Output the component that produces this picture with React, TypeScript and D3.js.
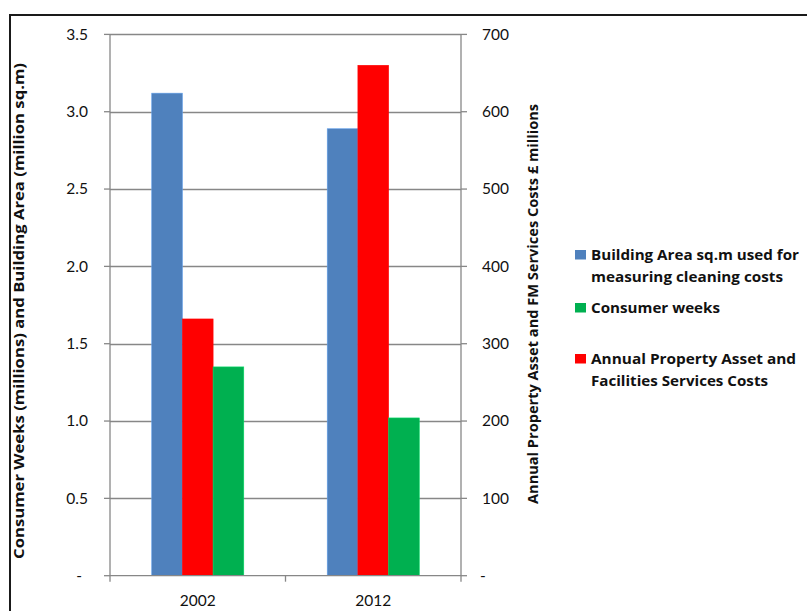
import { useEffect, useRef } from "react";
import * as d3 from "d3";

const years = ["2002", "2012"];
const buildingArea = [3.12, 2.89];
const propertyCosts = [332, 660];
const consumerWeeks = [1.35, 1.02];
const leftTicks = [0, 0.5, 1.0, 1.5, 2.0, 2.5, 3.0, 3.5];
const rightTicks = [0, 100, 200, 300, 400, 500, 600, 700];

const SERIES = [
  { key: "area", values: buildingArea, axis: "left", color: "#4F81BD" },
  { key: "costs", values: propertyCosts, axis: "right", color: "#FF0000" },
  { key: "weeks", values: consumerWeeks, axis: "left", color: "#00B050" },
];

// legend lines with their measured widths in the reference
const LEGEND = [
  { color: "#4F81BD", lines: ["Building Area sq.m used for", "measuring cleaning costs"], widths: [208, 192] },
  { color: "#00B050", lines: ["Consumer weeks"], widths: [129] },
  { color: "#FF0000", lines: ["Annual Property Asset and", "Facilities Services Costs"], widths: [205, 177] },
];

const FONT = "Lato, 'Open Sans', sans-serif";
const BOLD_FONT = "'Open Sans', Lato, sans-serif";

export default function App() {
  const svgRef = useRef<SVGSVGElement>(null);

  useEffect(() => {
    if (!svgRef.current) return;
    const width = 807;
    const height = 611;
    const plot = { left: 110, right: 461, top: 34.4, bottom: 575.7 };

    const svg = d3.select(svgRef.current);
    svg.selectAll("*").remove();
    svg.attr("width", width).attr("height", height);

    svg.append("rect").attr("width", width).attr("height", height).attr("fill", "#fff");

    // outer chart border (runs past the window)
    svg.append("rect")
      .attr("x", 10)
      .attr("y", 15)
      .attr("width", 830)
      .attr("height", 640)
      .attr("fill", "none")
      .attr("stroke", "#1a1a1a")
      .attr("stroke-width", 2);

    const x0 = d3.scaleBand().domain(years).range([plot.left, plot.right]).padding(0);
    const x1 = d3
      .scaleBand()
      .domain(SERIES.map((s) => s.key))
      .range([0, x0.bandwidth()])
      .paddingInner(0)
      .paddingOuter(1.36);
    const yLeft = d3.scaleLinear().domain([0, 3.5]).range([plot.bottom, plot.top]);
    const yRight = d3.scaleLinear().domain([0, 700]).range([plot.bottom, plot.top]);

    const g = svg.append("g");
    const grey = "#878787";

    // gridlines
    leftTicks.slice(1).forEach((t) => {
      g.append("line")
        .attr("x1", plot.left)
        .attr("x2", plot.right)
        .attr("y1", Math.round(yLeft(t)) + 0.5)
        .attr("y2", Math.round(yLeft(t)) + 0.5)
        .attr("stroke", grey)
        .attr("stroke-width", 1.3);
    });

    // bars
    SERIES.forEach((s) => {
      const yS = s.axis === "left" ? yLeft : yRight;
      s.values.forEach((v, i) => {
        const x = (x0(years[i]) ?? 0) + (x1(s.key) ?? 0);
        g.append("rect")
          .attr("x", x)
          .attr("y", yS(v))
          .attr("width", x1.bandwidth())
          .attr("height", plot.bottom - yS(v))
          .attr("fill", s.color)
          .attr("stroke", d3.color(s.color)!.brighter(0.6).toString())
          .attr("stroke-width", 0.6);
      });
    });

    // axes lines
    [plot.left, plot.right].forEach((x) => {
      g.append("line")
        .attr("x1", x)
        .attr("x2", x)
        .attr("y1", plot.top)
        .attr("y2", plot.bottom)
        .attr("stroke", grey)
        .attr("stroke-width", 1.3);
    });
    g.append("line")
      .attr("x1", plot.left)
      .attr("x2", plot.right)
      .attr("y1", plot.bottom)
      .attr("y2", plot.bottom)
      .attr("stroke", grey)
      .attr("stroke-width", 1.3);

    // left ticks
    leftTicks.forEach((t) => {
      const y = yLeft(t);
      g.append("line")
        .attr("x1", plot.left - 6)
        .attr("x2", plot.left)
        .attr("y1", y)
        .attr("y2", y)
        .attr("stroke", grey)
        .attr("stroke-width", 1.3);
      g.append("text")
        .attr("x", t === 0 ? 82 : 88)
        .attr("y", y)
        .attr("dy", "0.35em")
        .attr("text-anchor", "end")
        .attr("font-family", FONT)
        .attr("font-size", 15.5)
        .attr("fill", "#111")
        .text(t === 0 ? "-" : d3.format(".1f")(t));
    });

    // right ticks
    rightTicks.forEach((t) => {
      const y = yRight(t);
      g.append("line")
        .attr("x1", plot.right)
        .attr("x2", plot.right + 6)
        .attr("y1", y)
        .attr("y2", y)
        .attr("stroke", grey)
        .attr("stroke-width", 1.3);
      g.append("text")
        .attr("x", t === 0 ? 480 : 482)
        .attr("y", y)
        .attr("dy", "0.35em")
        .attr("text-anchor", "start")
        .attr("font-family", FONT)
        .attr("font-size", 15.5)
        .attr("fill", "#111")
        .text(t === 0 ? "-" : String(t));
    });

    // category ticks + labels
    [plot.left, plot.left + x0.bandwidth(), plot.right].forEach((x) => {
      g.append("line")
        .attr("x1", x)
        .attr("x2", x)
        .attr("y1", plot.bottom)
        .attr("y2", plot.bottom + 6)
        .attr("stroke", grey)
        .attr("stroke-width", 1.3);
    });
    years.forEach((yr) => {
      g.append("text")
        .attr("x", (x0(yr) ?? 0) + x0.bandwidth() / 2)
        .attr("y", 601)
        .attr("dy", "0.35em")
        .attr("text-anchor", "middle")
        .attr("font-family", FONT)
        .attr("font-size", 15.5)
        .attr("fill", "#111")
        .text(yr);
    });

    // axis titles
    g.append("text")
      .attr("transform", `translate(24,311) rotate(-90)`)
      .attr("text-anchor", "middle")
      .attr("font-family", BOLD_FONT)
      .attr("font-weight", "bold")
      .attr("font-size", 15)
      .attr("textLength", 496)
      .attr("lengthAdjust", "spacingAndGlyphs")
      .attr("fill", "#111")
      .text("Consumer Weeks (millions) and Building Area (million sq.m)");

    g.append("text")
      .attr("transform", `translate(538,304) rotate(-90)`)
      .attr("text-anchor", "middle")
      .attr("font-family", BOLD_FONT)
      .attr("font-weight", "bold")
      .attr("font-size", 14.5)
      .attr("textLength", 400)
      .attr("lengthAdjust", "spacingAndGlyphs")
      .attr("fill", "#111")
      .text("Annual Property Asset and FM Services Costs \u00a3 millions");

    // legend
    const legendRows = [254.5, 307.5, 358.5];
    LEGEND.forEach((item, i) => {
      const y = legendRows[i];
      g.append("rect")
        .attr("x", 575)
        .attr("y", y - 4.5)
        .attr("width", 11)
        .attr("height", 9.5)
        .attr("fill", item.color);
      item.lines.forEach((line, j) => {
        g.append("text")
          .attr("x", 591)
          .attr("y", y + j * 22)
          .attr("dy", "0.36em")
          .attr("font-family", BOLD_FONT)
          .attr("font-weight", "bold")
          .attr("font-size", 14.5)
          .attr("textLength", item.widths[j])
          .attr("lengthAdjust", "spacingAndGlyphs")
          .attr("fill", "#111")
          .text(line);
      });
    });
  }, []);

  return (
    <svg
      ref={svgRef}
      style={{ position: "absolute", left: 0, top: 0, display: "block" }}
    />
  );
}
